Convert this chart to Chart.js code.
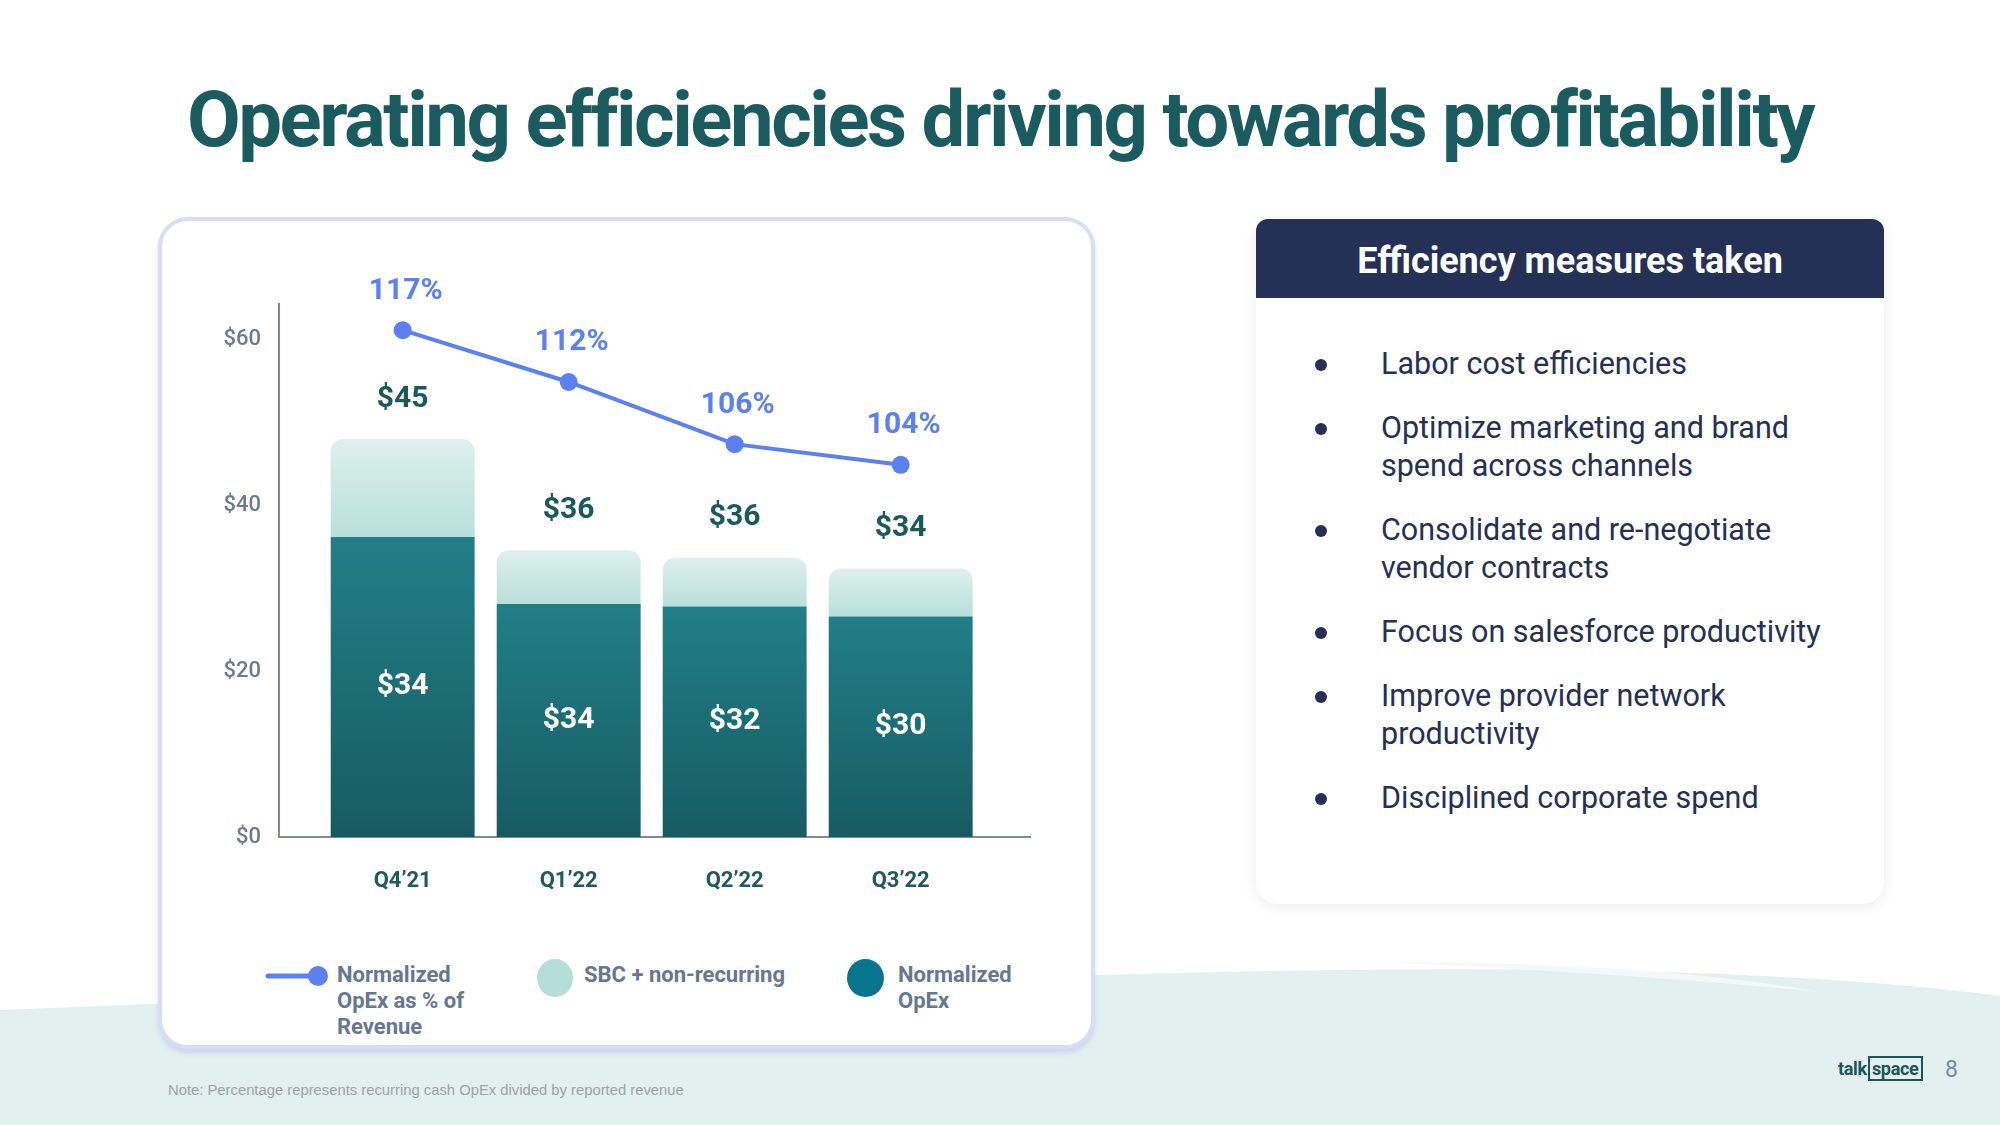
<!DOCTYPE html>
<html lang="en">
<head>
<meta charset="UTF-8">
<title>Operating efficiencies driving towards profitability</title>
<script src="https://cdn.jsdelivr.net/npm/chart.js"></script>
<style>
  html, body { margin: 0; padding: 0; }
  body { width: 2000px; height: 1125px; position: relative; overflow: hidden; background: #ffffff; font-family: Roboto, "Noto Sans", sans-serif; }
  #bg { position: absolute; left: 0; top: 0; }
  h1 { position: absolute; left: 0; top: 70px; width: 2000px; margin: 0; text-align: center; font-size: 78px; line-height: 100px; font-weight: 700; color: #1a5b60; letter-spacing: -2.5px; }
  .card { position: absolute; left: 158px; top: 217px; width: 929px; height: 824px; border: 4px solid #d9ddf4; border-radius: 30px; background: #fff; box-shadow: 0 4px 4px rgba(185,195,235,0.55); }
  #chart { position: absolute; left: 159px; top: 219px; }
  .leg { position: absolute; top: 962px; font-size: 22px; line-height: 26px; font-weight: 700; color: #667792; }
  .sw { position: absolute; border-radius: 50%; }
  .panel { position: absolute; left: 1256px; top: 219px; width: 628px; height: 685px; background: #fff; border-radius: 14px 14px 22px 22px; box-shadow: 0 3px 14px rgba(0,0,0,0.08); }
  .panel .head { height: 79px; background: #253057; border-radius: 12px 12px 0 0; color: #fff; font-weight: 700; font-size: 36px; line-height: 85px; text-align: center; }
  .items { position: absolute; left: 0; top: 126px; }
  .item { position: relative; margin-bottom: 26px; padding-left: 125px; font-size: 30.5px; line-height: 38px; color: #253057; }
  .item::before { content: ""; position: absolute; left: 59px; top: 14px; width: 12px; height: 12px; border-radius: 50%; background: #253057; }
  .note { position: absolute; left: 168px; top: 1082px; font-family: "Liberation Sans", Arial, sans-serif; font-size: 14.8px; color: #9ea3aa; }
  .logo { position: absolute; left: 1838px; top: 1058px; font-size: 18px; font-weight: 700; color: #1d5558; line-height: 22px; letter-spacing: -0.3px; }
  .logo span { border: 2px solid #1d5558; padding: 0 2px; margin-left: 1px; }
  .page { position: absolute; left: 1945px; top: 1056px; font-size: 23px; color: #7b8aa6; }
</style>
</head>
<body>
<svg id="bg" width="2000" height="1125">
  <path d="M0,1010 Q500,990 1100,975 Q1550,962 1800,978 Q1930,986 2000,996 L2000,1125 L0,1125 Z" fill="#e2f0ef"/>
  <path d="M1380,962 Q1650,962 1820,992 Q1640,974 1380,962 Z" fill="#f3f9f8"/>
</svg>

<h1>Operating efficiencies driving towards profitability</h1>

<div class="card"></div>
<canvas id="chart" width="935" height="720"></canvas>

<!-- legenda sub grafic -->
<svg style="position:absolute;left:262px;top:962px" width="70" height="30">
  <line x1="6" y1="14" x2="56" y2="14" stroke="#5b80f2" stroke-width="5" stroke-linecap="round"/>
  <circle cx="56" cy="14" r="10" fill="#5b80f2"/>
</svg>
<div class="leg" style="left:337px">Normalized<br>OpEx as % of<br>Revenue</div>
<div class="sw" style="left:537px;top:959px;width:36px;height:38px;background:#b5ded8"></div>
<div class="leg" style="left:584px">SBC + non-recurring</div>
<div class="sw" style="left:847px;top:959px;width:37px;height:38px;background:#08758f"></div>
<div class="leg" style="left:898px">Normalized<br>OpEx</div>

<div class="panel">
  <div class="head">Efficiency measures taken</div>
  <div class="items">
    <div class="item">Labor cost efficiencies</div>
    <div class="item">Optimize marketing and brand<br>spend across channels</div>
    <div class="item">Consolidate and re-negotiate<br>vendor contracts</div>
    <div class="item">Focus on salesforce productivity</div>
    <div class="item">Improve provider network<br>productivity</div>
    <div class="item">Disciplined corporate spend</div>
  </div>
</div>

<div class="note">Note: Percentage represents recurring cash OpEx divided by reported revenue</div>
<div class="logo">talk<span>space</span></div>
<div class="page">8</div>

<script>
// date (inaltimile barelor pe axa in $)
const categories = ['Q4\u201921', 'Q1\u201922', 'Q2\u201922', 'Q3\u201922'];
const normalizedOpex = [36.2, 28.1, 27.8, 26.6];
const sbcNonRecurring = [11.8, 6.5, 5.9, 5.8];
const opexPctRevenue = [117, 112, 106, 104];
const totalLabels = ['$45', '$36', '$36', '$34'];
const opexLabels = ['$34', '$34', '$32', '$30'];
const yTicks = [0, 20, 40, 60];

const toPoints = arr => arr.map((v, i) => ({ x: i, y: v }));

// gradient pe fiecare bara, de la varf la baza segmentului
function segGradient(c, topVals, baseVals, cTop, cBottom, fallback) {
  const chart = c.chart;
  const y = chart.scales && chart.scales.y;
  if (!chart.chartArea || !y || c.dataIndex === undefined) return fallback;
  const i = c.dataIndex;
  const top = y.getPixelForValue(topVals[i]);
  const bottom = y.getPixelForValue(baseVals[i]);
  if (!isFinite(top) || !isFinite(bottom)) return fallback;
  const g = chart.ctx.createLinearGradient(0, top, 0, bottom);
  g.addColorStop(0, cTop);
  g.addColorStop(1, cBottom);
  return g;
}

const totals = normalizedOpex.map((v, i) => v + sbcNonRecurring[i]);
const zeros = normalizedOpex.map(() => 0);

// etichete de valori
const valueLabels = {
  id: 'valueLabels',
  afterDatasetsDraw(chart) {
    const ctx = chart.ctx;
    const dark = chart.getDatasetMeta(0).data;
    const light = chart.getDatasetMeta(1).data;
    const line = chart.getDatasetMeta(2).data;
    ctx.save();
    ctx.textAlign = 'center';
    ctx.textBaseline = 'middle';
    ctx.font = 'bold 30px Roboto';
    categories.forEach((c, i) => {
      ctx.fillStyle = '#ffffff';
      ctx.fillText(opexLabels[i], dark[i].x, (dark[i].y + dark[i].base) / 2);
      ctx.fillStyle = '#1b5a5c';
      ctx.fillText(totalLabels[i], light[i].x, light[i].y - 40);
      ctx.fillStyle = '#5b80f2';
      ctx.fillText(opexPctRevenue[i] + '%', line[i].x + 3, line[i].y - 39);
    });
    ctx.restore();
  }
};

const ctx = document.getElementById('chart').getContext('2d');
new Chart(ctx, {
  type: 'bar',
  data: {
    datasets: [
      {
        label: 'Normalized OpEx',
        data: toPoints(normalizedOpex),
        backgroundColor: c => segGradient(c, normalizedOpex, zeros, '#217f87', '#175b62', '#1d6e76'),
        barPercentage: 0.867,
        categoryPercentage: 1,
        order: 1
      },
      {
        label: 'SBC + non-recurring',
        data: toPoints(sbcNonRecurring),
        backgroundColor: c => segGradient(c, totals, normalizedOpex, '#dff0ee', '#b8dfd9', '#cce8e3'),
        borderRadius: { topLeft: 12, topRight: 12, bottomLeft: 0, bottomRight: 0 },
        borderSkipped: false,
        barPercentage: 0.867,
        categoryPercentage: 1,
        order: 1
      },
      {
        type: 'line',
        label: 'Normalized OpEx as % of Revenue',
        data: toPoints(opexPctRevenue),
        yAxisID: 'y2',
        borderColor: '#5b80f2',
        backgroundColor: '#5b80f2',
        borderWidth: 4,
        pointRadius: 9,
        pointBorderWidth: 0,
        pointBackgroundColor: '#5b80f2',
        tension: 0,
        order: 0
      }
    ]
  },
  options: {
    responsive: false,
    animation: false,
    layout: { padding: { top: 85, right: 64, left: 0, bottom: 0 } },
    plugins: { legend: { display: false }, tooltip: { enabled: false } },
    scales: {
      x: {
        type: 'linear',
        offset: false,
        min: -0.745,
        max: 3.779,
        stacked: true,
        grid: { display: false, drawTicks: false, offset: false },
        border: { color: '#7d8a9a', width: 2 },
        afterBuildTicks: s => { s.ticks = categories.map((c, i) => ({ value: i })); },
        afterFit: s => { s.height = 102; },
        ticks: {
          callback: v => categories[v],
          padding: 31,
          color: '#1f5a5e',
          font: { family: 'Roboto', weight: 'bold', size: 22 }
        }
      },
      y: {
        stacked: true,
        min: 0,
        max: 64.3,
        grid: { display: false, drawTicks: false },
        border: { color: '#7d8a9a', width: 2 },
        afterBuildTicks: s => { s.ticks = yTicks.map(v => ({ value: v })); },
        afterFit: s => { s.width = 120; },
        ticks: {
          callback: v => '$' + v,
          padding: 18,
          color: '#6d7b91',
          font: { family: 'Roboto', weight: '500', size: 22 }
        }
      },
      y2: { display: false, min: 68.07, max: 119.53 }
    }
  },
  plugins: [valueLabels]
});
</script>
</body>
</html>
